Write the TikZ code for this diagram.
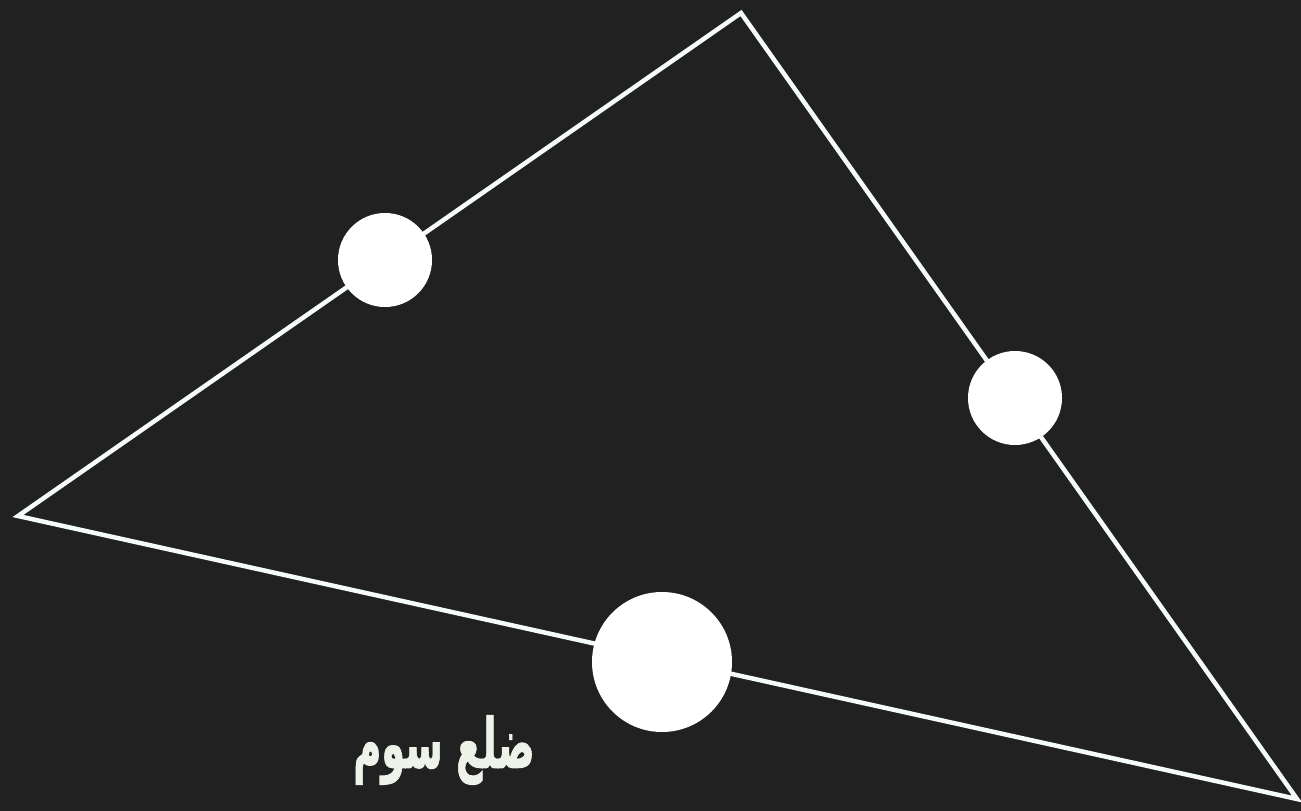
\documentclass[tikz,border=0pt]{standalone}
\usepackage{fontspec}
\usepackage{xcolor}
\usetikzlibrary{positioning}
\newfontfamily\arabicfont[Script=Arabic,BoldFeatures={FakeBold=1.5}]{DejaVu Sans}
\TeXXeTstate=1
\definecolor{bgdark}{HTML}{212121}
\definecolor{edgewhite}{HTML}{F5FAFA}
\definecolor{labelwhite}{HTML}{EEF3EA}

\begin{document}
\begin{tikzpicture}[
  x=1pt,
  y=-1pt,
  side/.style={draw=edgewhite, line width=4.5pt, line join=miter},
  mid/.style={circle, fill=white, inner sep=0pt},
  caption/.style={text=labelwhite, font=\arabicfont\bfseries\fontsize{46}{56}\selectfont, inner sep=0pt}
]
\fill[bgdark] (0,0) rectangle (1301,811);
\useasboundingbox (0,0) rectangle (1301,811);
\coordinate (top) at (741,13);
\coordinate (left) at (18,516);
\coordinate (right) at (1297,799);
\draw[side] (top) -- (left) -- (right) -- cycle;
\node[mid, minimum size=94pt] (m1) at (385,260) {};
\node[mid, minimum size=94pt] (m2) at (1015,398) {};
\node[mid, minimum size=140pt] (m3) at (662,662) {};
\node[caption] (lbl) at (444,750) {\scalebox{0.83}[1.5]{\beginR ضلع سوم\endR}};
\end{tikzpicture}
\end{document}
